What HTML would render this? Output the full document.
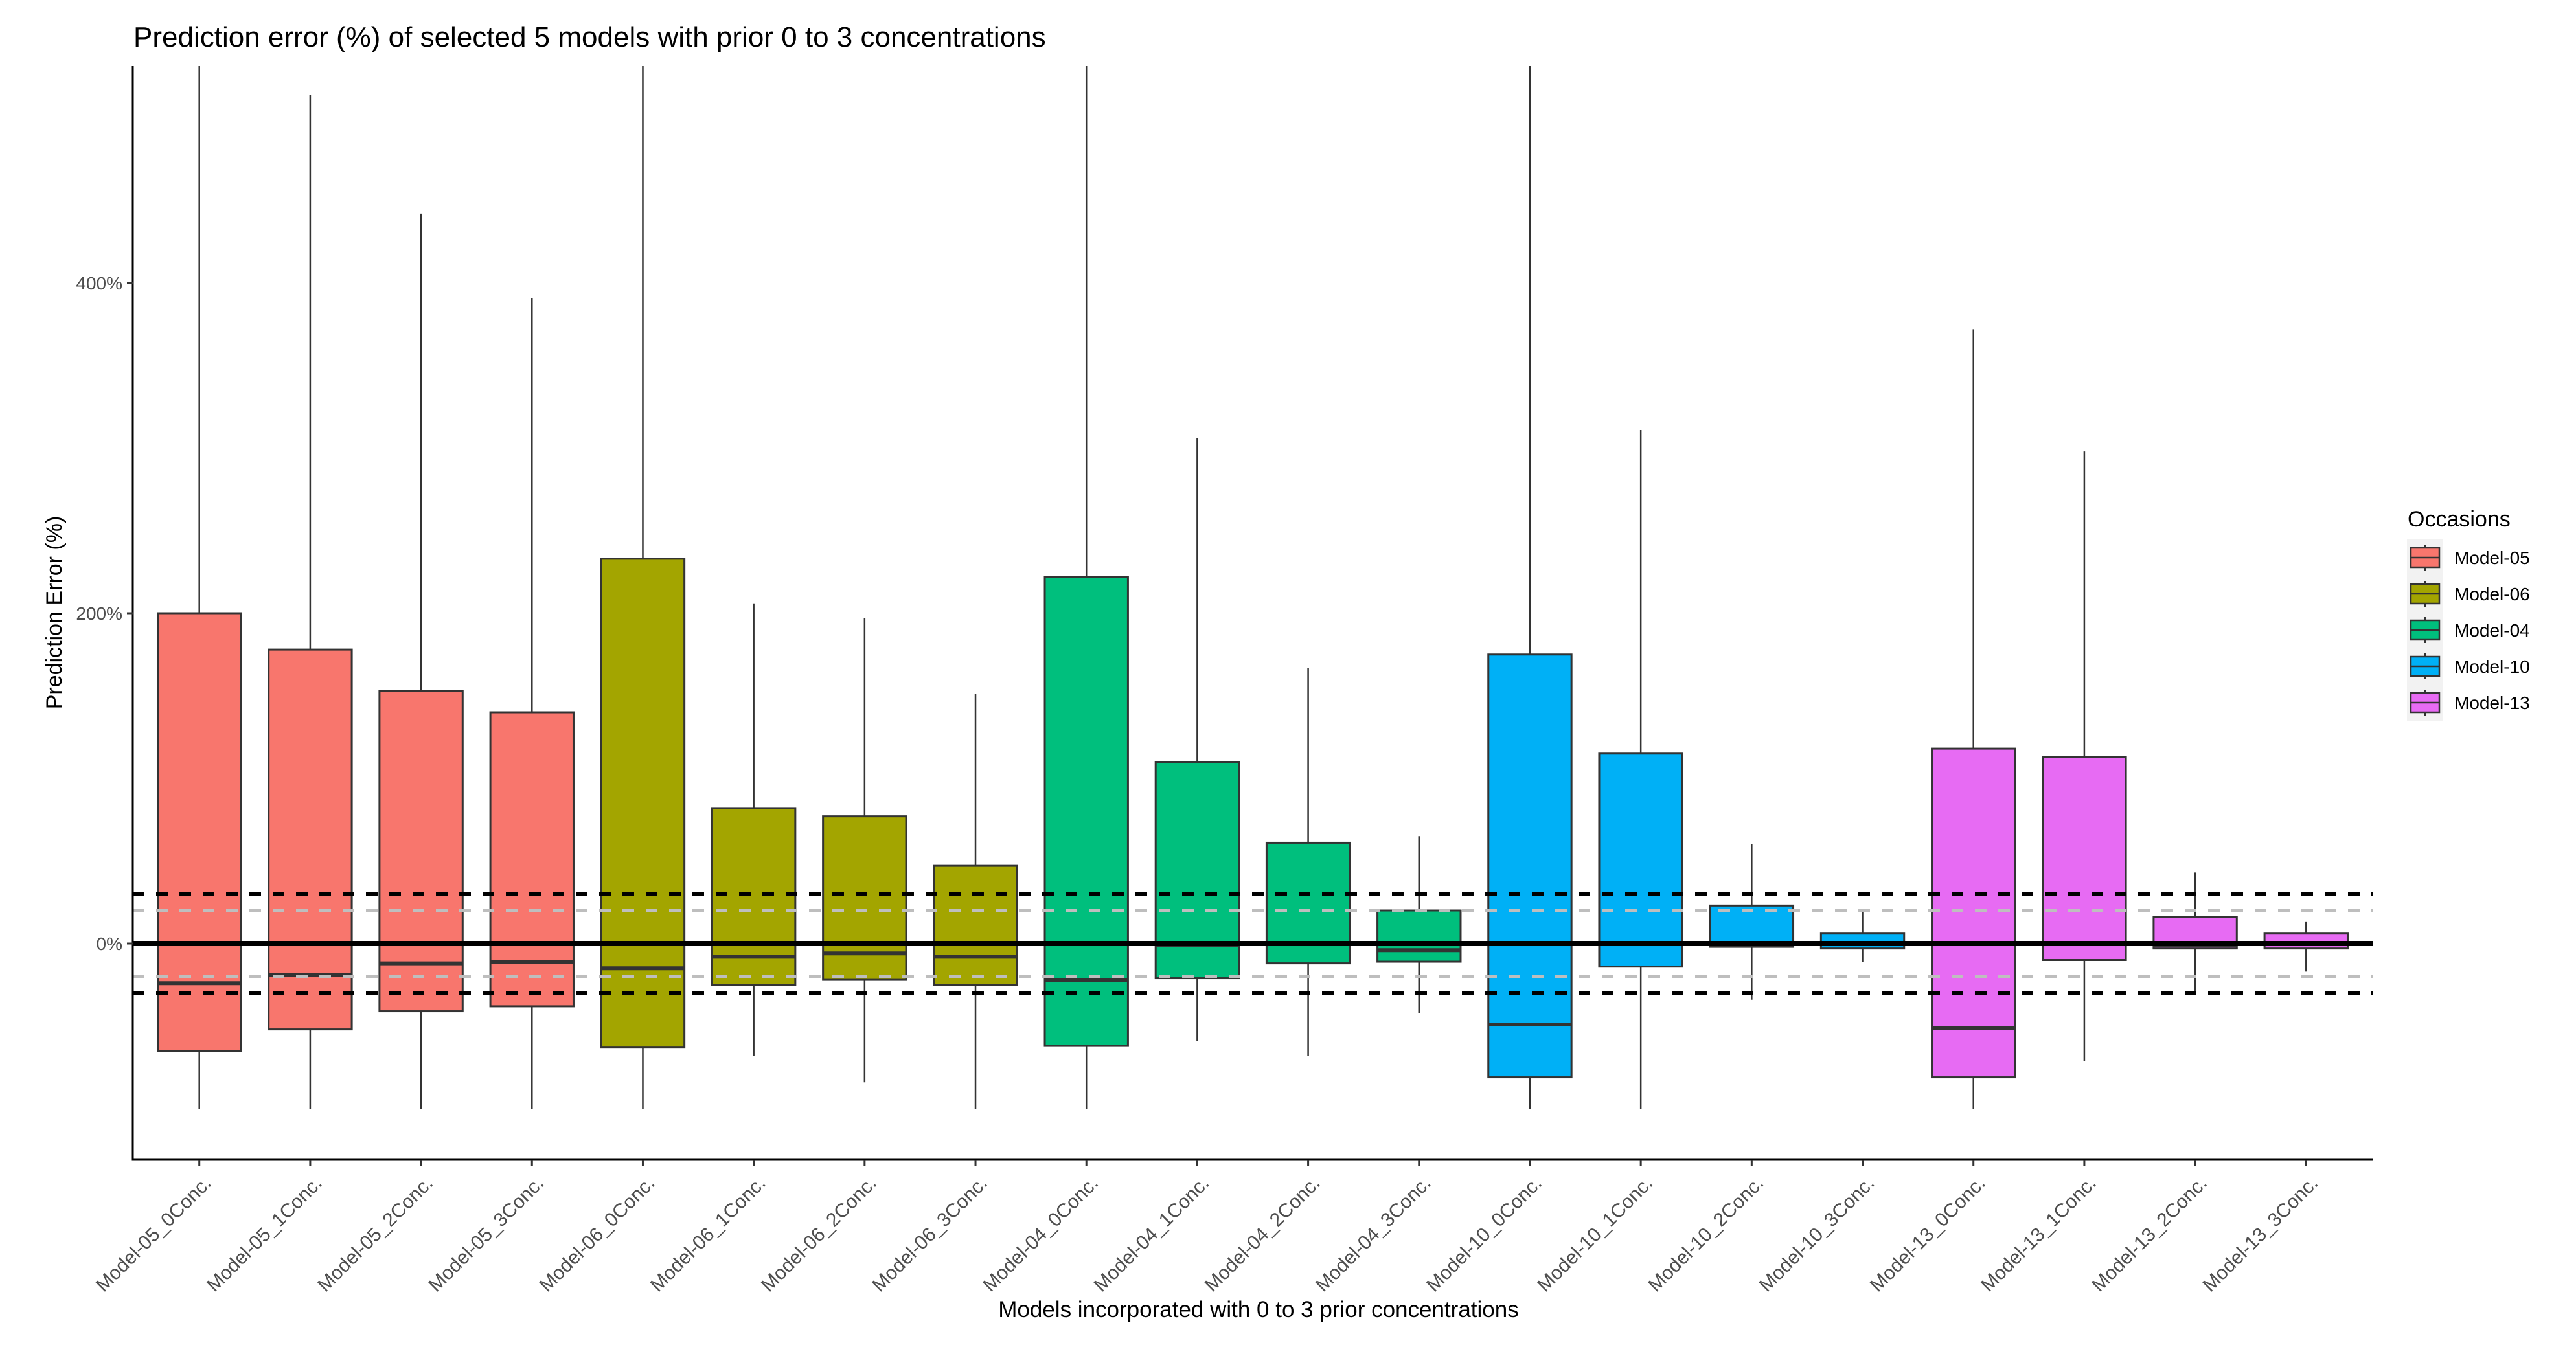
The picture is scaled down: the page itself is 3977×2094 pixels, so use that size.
<!DOCTYPE html>
<html><head><meta charset="utf-8"><style>
html,body{margin:0;padding:0;background:#fff;}
svg{display:block;font-family:"Liberation Sans",sans-serif;}
</style></head><body>
<svg id="chart" width="3977" height="2094" viewBox="0 0 3977 2094">
<text x="206" y="72" font-size="44" fill="#000">Prediction error (%) of selected 5 models with prior 0 to 3 concentrations</text>
<g id="plot"></g>
<text transform="translate(95,946) rotate(-90)" text-anchor="middle" font-size="34" fill="#000">Prediction Error (%)</text>
<text x="1943" y="2034" text-anchor="middle" font-size="35" fill="#000">Models incorporated with 0 to 3 prior concentrations</text>
<g id="legend"></g>
</svg>
<script>
const categories = ["Model-05_0Conc.","Model-05_1Conc.","Model-05_2Conc.","Model-05_3Conc.","Model-06_0Conc.","Model-06_1Conc.","Model-06_2Conc.","Model-06_3Conc.","Model-04_0Conc.","Model-04_1Conc.","Model-04_2Conc.","Model-04_3Conc.","Model-10_0Conc.","Model-10_1Conc.","Model-10_2Conc.","Model-10_3Conc.","Model-13_0Conc.","Model-13_1Conc.","Model-13_2Conc.","Model-13_3Conc."];
const groups = ["Model-05","Model-05","Model-05","Model-05","Model-06","Model-06","Model-06","Model-06","Model-04","Model-04","Model-04","Model-04","Model-10","Model-10","Model-10","Model-10","Model-13","Model-13","Model-13","Model-13"];
const whiskerLow = [-100,-100,-100,-100,-100,-68,-84,-100,-100,-59,-68,-42,-100,-100,-34,-11,-100,-71,-29,-17];
const q1 = [-65,-52,-41,-38,-63,-25,-22,-25,-62,-21,-12,-11,-81,-14,-2,-3,-81,-10,-3,-3];
const median = [-24,-19,-12,-11,-15,-8,-6,-8,-22,-1,0,-4,-49,0,-1,0,-51,0,-1,0];
const q3 = [200,178,153,140,233,82,77,47,222,110,61,20,175,115,23,6,118,113,16,6];
const whiskerHigh = [600,514,442,391,600,206,197,151,600,306,167,65,600,311,60,20,372,298,43,13];
const yTicks = [0,200,400];
const legendGroups = ["Model-05","Model-06","Model-04","Model-10","Model-13"];
const groupColors = {"Model-05":"#F8766D","Model-06":"#A3A500","Model-04":"#00BF7D","Model-10":"#00B0F6","Model-13":"#E76BF3"};
const refDashedBlack = [30,-30];
const refDashedGrey = [20,-20];

const NS="http://www.w3.org/2000/svg";
const L=205,R=3663,T=102,B=1791;
const y0=1457, pxPer=2.55;
function yS(v){return y0 - v*pxPer;}
const step=(R-L)/(categories.length+0.2);
function xS(i){return L+(0.6+i)*step;}
function mk(tag,attrs,parent){const e=document.createElementNS(NS,tag);for(const k in attrs)e.setAttribute(k,attrs[k]);parent.appendChild(e);return e;}
const plot=document.getElementById('plot');
const defs=mk('defs',{},plot);
const cp=mk('clipPath',{id:'clip'},defs);
mk('rect',{x:L,y:T,width:R-L,height:B-T},cp);
const g=mk('g',{'clip-path':'url(#clip)'},plot);
const bw=step*0.75;
categories.forEach((c,i)=>{
  const x=xS(i);
  const bg=mk('g',{},g);
  
  
  const w1=mk('line',{x1:x,x2:x,y1:yS(whiskerHigh[i]),y2:yS(q3[i]),stroke:'#333','stroke-width':2.5},bg);
  
  
  const w2=mk('line',{x1:x,x2:x,y1:yS(q1[i]),y2:yS(whiskerLow[i]),stroke:'#333','stroke-width':2.5},bg);
  
  
  const r=mk('rect',{x:x-bw/2,y:yS(q3[i]),width:bw,height:yS(q1[i])-yS(q3[i]),fill:groupColors[groups[i]],stroke:'#333','stroke-width':3},bg);
  
  
  const m=mk('line',{x1:x-bw/2,x2:x+bw/2,y1:yS(median[i]),y2:yS(median[i]),stroke:'#333','stroke-width':6},bg);
  
  
});
refDashedGrey.forEach(v=>{const l=mk('line',{x1:L,x2:R,y1:yS(v),y2:yS(v),stroke:'#bebebe','stroke-width':5,'stroke-dasharray':'18 18'},plot);
  
  });
refDashedBlack.forEach(v=>{const l=mk('line',{x1:L,x2:R,y1:yS(v),y2:yS(v),stroke:'#000','stroke-width':5,'stroke-dasharray':'18 18'},plot);
  
  });
const zl=mk('line',{x1:L,x2:R,y1:yS(0),y2:yS(0),stroke:'#000','stroke-width':8},plot);


const ax=mk('path',{d:`M${L},${T} V${B} H${R}`,fill:'none',stroke:'#000','stroke-width':3},plot);


yTicks.forEach(v=>{
  mk('line',{x1:L-9,x2:L,y1:yS(v),y2:yS(v),stroke:'#333','stroke-width':3},plot);
  const t=mk('text',{x:L-16,y:yS(v)+10,'text-anchor':'end','font-size':28,fill:'#4d4d4d'},plot);
  t.textContent=v+'%';
  
  
});
categories.forEach((c,i)=>{
  const x=xS(i);
  mk('line',{x1:x,x2:x,y1:B,y2:B+9,stroke:'#333','stroke-width':3},plot);
  const t=mk('text',{transform:`translate(${x+20},${B+38}) rotate(-45)`,'text-anchor':'end','font-size':30,fill:'#4d4d4d'},plot);
  t.textContent=c;
  
  
});
const lg=document.getElementById('legend');
const lt=mk('text',{x:3717,y:813,'font-size':34,fill:'#000'},lg);
lt.textContent='Occasions';


mk('rect',{x:3716,y:833,width:56,height:280,fill:'#f2f2f2'},lg);
legendGroups.forEach((k,j)=>{
  const cy=861+j*56;
  const eg=mk('g',{},lg);
  
  
  mk('line',{x1:3744,x2:3744,y1:cy-20,y2:cy+20,stroke:'#333','stroke-width':2.5},eg);
  mk('rect',{x:3722,y:cy-15,width:44,height:30,fill:groupColors[k],stroke:'#333','stroke-width':2.5},eg);
  mk('line',{x1:3722,x2:3766,y1:cy,y2:cy,stroke:'#333','stroke-width':2.5},eg);
  const t=mk('text',{x:3789,y:cy+10,'font-size':28,fill:'#000'},eg);
  t.textContent=k;
});
</script>
</body></html>
